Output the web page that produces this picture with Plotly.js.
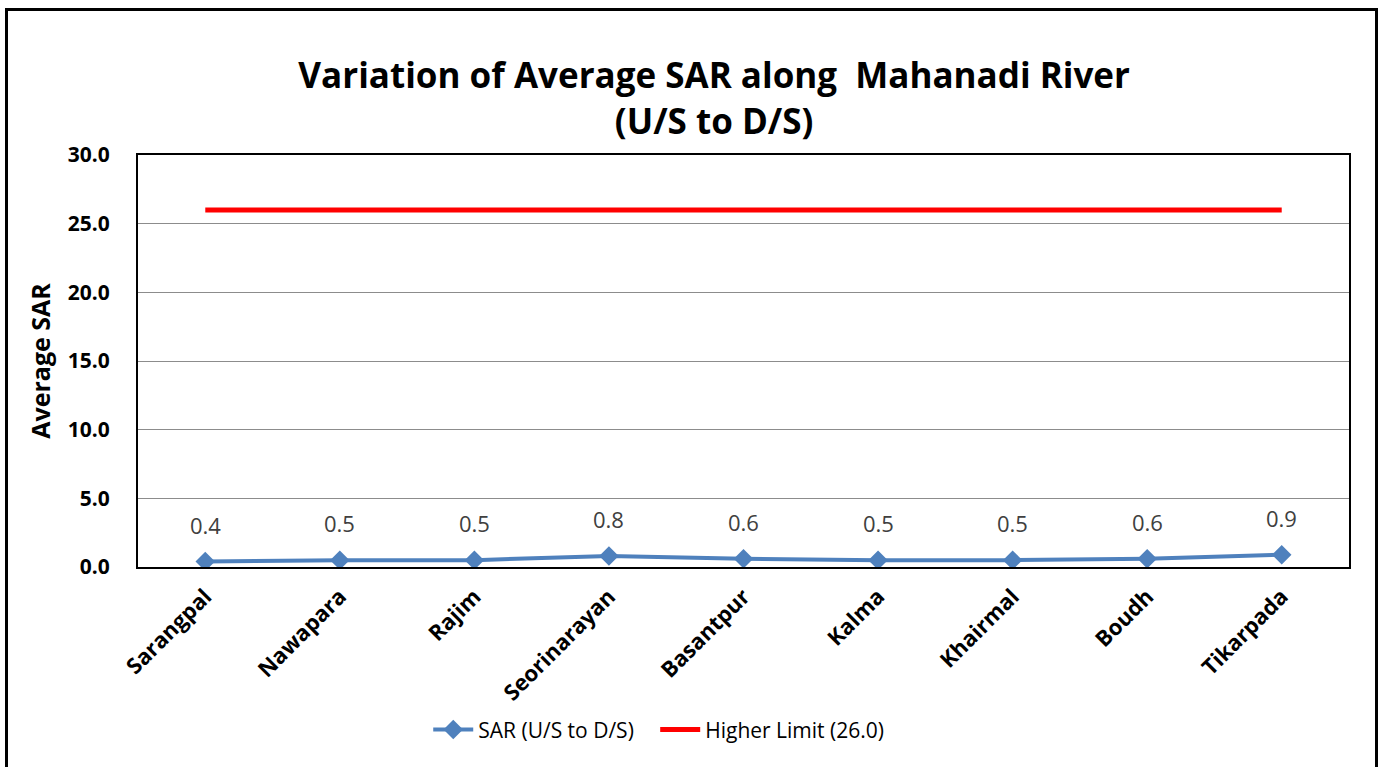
<!DOCTYPE html>
<html><head><meta charset="utf-8">
<script src="https://cdn.plot.ly/plotly-3.0.1.min.js"></script>
<style>
body{margin:0;padding:0;background:#fff;overflow:hidden;}
#chart{position:absolute;left:0;top:0;width:1384px;height:767px;}
#frame{position:absolute;left:5px;top:8px;width:1367px;height:800px;border:3px solid #000;pointer-events:none;}
</style></head>
<body>
<div id="chart"></div>
<div id="frame"></div>
<script>
const stations = ['Sarangpal','Nawapara','Rajim','Seorinarayan','Basantpur','Kalma','Khairmal','Boudh','Tikarpada'];
const sarValues = [0.4,0.5,0.5,0.8,0.6,0.5,0.5,0.6,0.9];
const limitValues = [26,26,26,26,26,26,26,26,26];
const yTicks = [0,5,10,15,20,25,30];

const font = '"Open Sans", "Noto Sans", sans-serif';

const traces = [
  {x: stations, y: sarValues, type:'scatter', mode:'lines+markers', name:'SAR (U/S to D/S)\u00a0\u00a0\u00a0',
   line:{color:'#4f81bd', width:4}, marker:{symbol:'diamond', size:15, color:'#4f81bd'}},
  {x: stations, y: limitValues, type:'scatter', mode:'lines', name:'Higher Limit (26.0)',
   line:{color:'#ff0000', width:5}}
];

const annotations = stations.map((s,i)=>({
  x: s, y: sarValues[i], xref:'x', yref:'y', text: sarValues[i].toFixed(1),
  showarrow:false, yshift:37, font:{family:font, size:22, color:'#404040'}
}));

const layout = {
  width:1384, height:767,
  margin:{l:138, r:35, t:155, b:200},
  paper_bgcolor:'#fff', plot_bgcolor:'#fff',
  font:{family:font, color:'#000'},
  title:{text:'<b>Variation of Average SAR along  Mahanadi River<br>(U/S to D/S)</b>',
    font:{family:font, size:35, color:'#000'}, x:0.516, xanchor:'center', y:0.885, yanchor:'top', yref:'container'},
  xaxis:{type:'category', range:[-0.5,8.5], showline:true, linecolor:'#000', linewidth:2, mirror:true,
    showgrid:false, ticks:'', tickangle:-45, ticklabelstandoff:6, tickfont:{family:font, size:22, color:'#000', weight:'bold'}},
  yaxis:{range:[0,30], tickvals:yTicks, ticktext:yTicks.map(v=>v.toFixed(1)), showline:true, linecolor:'#000', linewidth:2, mirror:true,
    gridcolor:'#8c8c8c', gridwidth:1, zeroline:false, ticks:'', ticklabelstandoff:22,
    tickfont:{family:font, size:21, color:'#000', weight:'bold'},
    title:{text:'<b>Average SAR</b>', font:{family:font, size:25, color:'#000'}, standoff:10}},
  legend:{orientation:'h', x:0.43, xanchor:'center', y:-0.395, yanchor:'middle', yref:'paper',
    font:{family:font, size:21, color:'#000'}, itemwidth:40, tracegroupgap:0},
  annotations: annotations,
  showlegend:true
};

Plotly.newPlot('chart', traces, layout, {displayModeBar:false, staticPlot:true});
</script>
</body></html>
